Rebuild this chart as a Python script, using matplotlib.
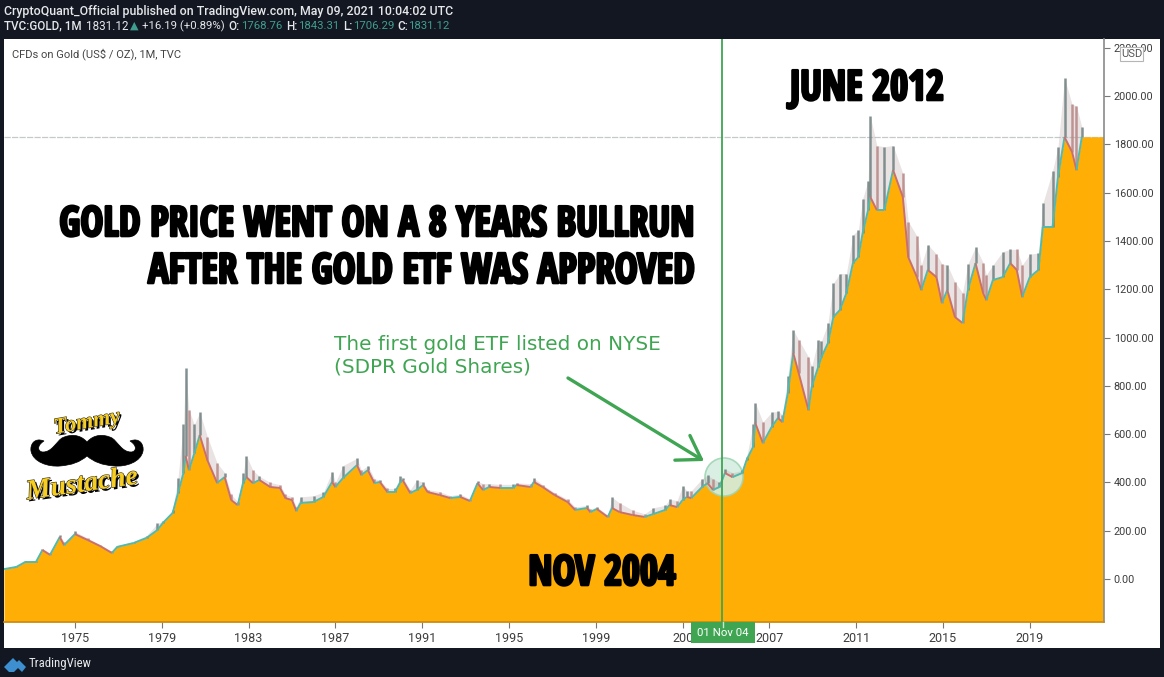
import numpy as np
import matplotlib
matplotlib.use('Agg')
import matplotlib.pyplot as plt
import matplotlib.patheffects as pe
from matplotlib.collections import LineCollection
from matplotlib.patches import PathPatch, Rectangle, Circle, FancyArrowPatch
from matplotlib.path import Path
from matplotlib.transforms import Affine2D

years = [1971.73, 1972.3, 1972.7, 1973.2, 1973.5, 1973.85, 1974.3, 1974.5, 1975.0, 1975.6,
         1976.15, 1976.7, 1976.95, 1977.7, 1978.3, 1978.8, 1979.05, 1979.5, 1979.75, 1980.0,
         1980.1, 1980.25, 1980.5, 1980.75, 1981.1, 1981.55, 1981.9, 1982.2, 1982.5, 1982.75,
         1982.9, 1983.2, 1983.5, 1984.0, 1984.45, 1984.7, 1985.0, 1985.2, 1985.4, 1986.0,
         1986.45, 1986.85, 1987.0, 1987.35, 1988.0, 1988.2, 1988.5, 1988.8, 1989.05, 1989.4,
         1989.75, 1990.0, 1990.1, 1990.45, 1990.75, 1991.05, 1991.25, 1991.8, 1992.3, 1992.75,
         1993.2, 1993.55, 1993.8, 1994.1, 1994.6, 1995.2, 1995.35, 1996.0, 1996.15, 1996.55,
         1997.1, 1997.7, 1998.05, 1998.6, 1998.75, 1999.05, 1999.55, 1999.75, 2000.1, 2000.7,
         2001.25, 2001.65, 2002.2, 2002.4, 2002.75, 2003.0, 2003.2, 2003.4, 2003.9, 2004.15,
         2004.4, 2004.7, 2004.95, 2005.3, 2005.75, 2005.95, 2006.25, 2006.35, 2006.7, 2007.1,
         2007.4, 2007.6, 2007.85, 2008.1, 2008.35, 2008.8, 2008.95, 2009.25, 2009.4, 2009.7,
         2009.95, 2010.25, 2010.55, 2010.85, 2011.1, 2011.3, 2011.55, 2011.65, 2011.95, 2012.3,
         2012.7, 2013.15, 2013.4, 2013.8, 2014.0, 2014.3, 2014.7, 2014.95, 2015.2, 2015.55,
         2015.9, 2016.15, 2016.5, 2016.85, 2017.0, 2017.3, 2017.75, 2018.1, 2018.4, 2018.65,
         2019.0, 2019.4, 2019.6, 2020.05, 2020.3, 2020.6, 2020.95, 2021.15, 2021.4, 2022.4]
closes = [41, 50, 70, 70, 120, 100, 174, 140, 186, 161,
          137, 108, 133, 149, 170, 203, 232, 273, 356, 439,
          510, 451, 520, 596, 493, 398, 422, 327, 306, 398,
          422, 397, 410, 381, 377, 335, 327, 282, 315, 319,
          340, 402, 381, 418, 472, 431, 451, 397, 402, 360,
          360, 402, 410, 356, 369, 389, 360, 348, 335, 340,
          323, 397, 369, 381, 377, 377, 389, 381, 402, 381,
          348, 319, 286, 294, 277, 290, 257, 294, 277, 265,
          257, 269, 286, 306, 298, 327, 340, 335, 381, 397,
          369, 381, 439, 422, 439, 493, 547, 646, 563, 629,
          667, 650, 770, 936, 853, 700, 795, 878, 919, 977,
          1085, 1114, 1184, 1308, 1333, 1433, 1528, 1582, 1528, 1528,
          1694, 1582, 1333, 1250, 1197, 1280, 1250, 1143, 1197, 1085,
          1060, 1197, 1308, 1184, 1155, 1238, 1250, 1308, 1280, 1168,
          1250, 1280, 1458, 1458, 1665, 1830, 1768, 1694, 1831, 1831]
highs = [42, 54, 76, 76, 126, 108, 182, 152, 197, 168,
         142, 114, 138, 155, 180, 230, 240, 285, 420, 640,
         874, 700, 640, 690, 590, 480, 440, 350, 320, 440,
         510, 450, 425, 400, 390, 350, 340, 300, 340, 345,
         360, 445, 400, 470, 500, 450, 470, 415, 410, 375,
         375, 425, 420, 370, 410, 400, 370, 362, 345, 352,
         332, 405, 395, 395, 392, 392, 398, 395, 418, 390,
         358, 330, 298, 305, 290, 298, 265, 338, 315, 285,
         270, 295, 305, 330, 325, 385, 365, 365, 415, 430,
         415, 400, 455, 440, 450, 505, 640, 730, 650, 690,
         695, 680, 840, 1031, 990, 920, 880, 990, 985, 1060,
         1225, 1265, 1265, 1425, 1445, 1575, 1650, 1917, 1795, 1790,
         1795, 1680, 1480, 1420, 1300, 1385, 1345, 1305, 1300, 1230,
         1185, 1305, 1375, 1310, 1260, 1300, 1355, 1365, 1365, 1300,
         1345, 1350, 1555, 1690, 1790, 2074, 1965, 1960, 1870, 1831]

price_ticks = [0, 200, 400, 600, 800, 1000, 1200, 1400, 1600, 1800, 2000, 2200]
year_ticks = [1975, 1979, 1983, 1987, 1991, 1995, 1999, 2003, 2007, 2011, 2015, 2019]
last_price = 1831.12
etf_date = 2004.83

W, H = 1164, 677
DARK = '#131722'
ORANGE = '#ffae06'
GREEN = '#3fa552'
plt.rcParams['font.family'] = ['Roboto', 'DejaVu Sans']
HEAVY = 'Open Sans Condensed'


class Squeeze(pe.AbstractPathEffect):
    # narrows a text about x0 so the heavy poster lettering fits its width
    def __init__(self, x0, sx, lw):
        super().__init__()
        self.x0, self.sx, self.lw = x0, sx, lw

    def draw_path(self, renderer, gc, tpath, affine, rgbFace=None):
        gc2 = renderer.new_gc()
        gc2.copy_properties(gc)
        gc2.set_foreground('black')
        gc2.set_linewidth(self.lw)
        tr = affine + Affine2D().translate(-self.x0, 0).scale(self.sx, 1).translate(self.x0, 0)
        renderer.draw_path(gc2, tpath, tr, rgbFace)
        gc2.restore()


fig = plt.figure(figsize=(W / 100, H / 100), dpi=100, facecolor=DARK)

# white panel behind chart and both scales
fig.add_artist(Rectangle((4 / W, 1 - 648 / H), 1156 / W, 609 / H, transform=fig.transFigure,
                         facecolor='white', edgecolor='none', zorder=-5))

ax = fig.add_axes([4 / W, 1 - 622 / H, 1100 / W, 583 / H])
ax.set_facecolor('white')
ax.set_xlim(1971.73, 2022.42)
ax.set_ylim(-178, 2236)

# overlay in pixel coordinates for the drawn-on notes and the frame text
ov = fig.add_axes([0, 0, 1, 1], facecolor='none')
ov.set_xlim(0, W)
ov.set_ylim(H, 0)
ov.axis('off')

x = np.array(years)
c = np.array(closes)
h = np.array(highs)

ax.fill_between(x, -178, c, color=ORANGE, lw=0, zorder=2)
ax.add_patch(Circle((724, 477), 19, transform=ov.transData, facecolor='#d5eee0', edgecolor='#9fd6b4',
                    alpha=0.9, lw=1.2, zorder=2.5))
ax.fill_between(x[:-1], c[:-1], h[:-1], color='#b7a3a3', alpha=0.3, lw=0, zorder=3)
up = np.diff(c) >= 0
ax.vlines(x[:-1], c[:-1], h[:-1], colors=np.where(np.r_[True, up[:-1]], '#6f7f80', '#b98585'),
          lw=1.8, alpha=0.85, zorder=4)
pts = np.column_stack([x, c]).reshape(-1, 1, 2)
segs = np.concatenate([pts[:-1], pts[1:]], axis=1)[:-1]
ax.add_collection(LineCollection(segs, colors=np.where(up[:-1], '#52b9ae', '#c9706f'), linewidths=1.4, zorder=5))

ax.axhline(last_price, color='#c6c9c9', lw=0.9, ls=(0, (5, 1)), zorder=1)
ax.axvline(etf_date, color=GREEN, lw=1.3, zorder=7)

ax.set_xticks(year_ticks)
ax.set_xticklabels(['200' if y == 2003 else str(y) for y in year_ticks], fontsize=9, color='#3d3d3d')
ax.yaxis.tick_right()
ax.set_yticks(price_ticks)
ax.set_yticklabels(['%.2f' % p for p in price_ticks], fontsize=7.8, color='#3d3d3d')
ax.tick_params(axis='x', length=4, width=0.8, color='#777777', pad=3)
ax.tick_params(axis='y', length=4, width=0.8, color='#777777', pad=3)
for s in ['top', 'left']:
    ax.spines[s].set_visible(False)
ax.spines['right'].set_color('#8a8a8a')
ax.spines['right'].set_linewidth(1.2)
ax.spines['bottom'].set_color('#c98a10')
ax.spines['bottom'].set_linewidth(1.2)

ov.text(4, 11, 'CryptoQuant_Official published on TradingView.com, May 09, 2021 10:04:02 UTC',
        color='#e6e8ea', fontsize=8.9, va='center', weight='medium')
ov.text(4, 26, 'TVC:GOLD, 1M', color='#e6e8ea', fontsize=8.4, va='center', weight='medium')
ov.text(86, 26, '1831.12', color='#e6e8ea', fontsize=8.4, va='center')
ov.text(130, 26, '\u25b2', color='#3f9d8f', fontsize=8, va='center', family='DejaVu Sans')
ov.text(142, 26, '+16.19 (+0.89%)', color='#e6e8ea', fontsize=8.2, va='center')
for xl, lab, xv, val in [(228, 'O:', 241, '1768.76'), (286, 'H:', 298, '1843.31'),
                         (343, 'L:', 353, '1706.29'), (397, 'C:', 408, '1831.12')]:
    ov.text(xl, 26, lab, color='#e6e8ea', fontsize=8.4, va='center', weight='medium')
    ov.text(xv, 26, val, color='#3f9d8f', fontsize=8.2, va='center')
ov.text(12, 54, 'CFDs on Gold (US$ / OZ), 1M, TVC', color='#444444', fontsize=8, va='center')

ov.add_patch(Rectangle((1120, 47), 23, 14, facecolor='white', edgecolor='#b5b5b5', lw=0.8, zorder=5))
ov.text(1131.5, 54, 'USD', color='#555555', fontsize=8, ha='center', va='center', zorder=6)


def poster(px, py, s, ha, sx=0.93):
    # anchor of the squeeze is the text's own anchor in device pixels
    x0 = ov.transData.transform((px, py))[0]
    ov.text(px, py, s, family=HEAVY, weight='bold', fontsize=30, ha=ha, va='baseline', color='black',
            path_effects=[Squeeze(x0, sx, 1.9)])


poster(694, 236, 'GOLD PRICE WENT ON A 8 YEARS BULLRUN', 'right')
poster(694, 283, 'AFTER THE GOLD ETF WAS APPROVED', 'right')
poster(867, 100, 'JUNE 2012', 'center')
poster(602, 585, 'NOV 2004', 'center')

ov.text(334, 345, 'The first gold ETF listed on NYSE', color=GREEN, fontsize=14.4, va='center',
        family='DejaVu Sans')
ov.text(334, 367, '(SDPR Gold Shares)', color=GREEN, fontsize=14.4, va='center', family='DejaVu Sans')
ov.add_patch(FancyArrowPatch((568, 378), (704, 461), arrowstyle='->,head_length=10,head_width=6.5',
                             color=GREEN, lw=2.4, mutation_scale=1.6, shrinkA=0, shrinkB=0))

ov.add_patch(Rectangle((691, 622), 64, 21, facecolor=GREEN, edgecolor='none', zorder=4))
ov.text(723, 633, '01 Nov 04', color='white', fontsize=8.2, ha='center', va='center', zorder=5)
ov.plot([722.5, 722.5], [622, 627], color='#c9e8cf', lw=1, zorder=5)

# moustache logo
half = [(87, 442), (80, 434), (70, 434), (62, 438), (56, 442), (52, 452), (43, 452),
        (38, 452), (36, 446), (44, 441), (34, 437), (30, 445), (31, 451),
        (33, 462), (48, 467), (60, 466), (72, 465), (80, 462), (87, 456)]
mirror = [(174 - a, b) for a, b in half[::-1]][1:]
verts = half + mirror + [half[0]]
codes = [Path.MOVETO] + [Path.CURVE4] * (len(half) + len(mirror) - 1) + [Path.CLOSEPOLY]
ov.add_patch(PathPatch(Path(verts, codes), facecolor='black', edgecolor='black', lw=0.5))
shadow = [pe.withSimplePatchShadow(offset=(1.5, -1.5), shadow_rgbFace='black', alpha=1),
          pe.withStroke(linewidth=0.8, foreground='#2b2b2b')]
ov.text(87, 423, 'Tommy', family='Liberation Serif', style='italic', weight='bold', fontsize=16,
        color='#f7cd1f', ha='center', va='center', rotation=10, path_effects=shadow)
ov.text(82, 485, 'Mustache', family='Liberation Serif', style='italic', weight='bold', fontsize=20,
        color='#f7cd1f', ha='center', va='center', rotation=8, path_effects=shadow)

# TradingView footer logo
ov.add_patch(plt.Polygon([(4, 667), (9, 662), (13, 658), (17, 662), (19, 660), (26, 667), (22, 672),
                          (18, 668), (14, 672), (9, 672)], facecolor='#3d8fd0', edgecolor='none'))
ov.text(29, 664, 'TradingView', color='#e6e8ea', fontsize=9.2, va='center', family='Roboto Condensed')

fig.savefig('out.png', dpi=100, facecolor=DARK)
